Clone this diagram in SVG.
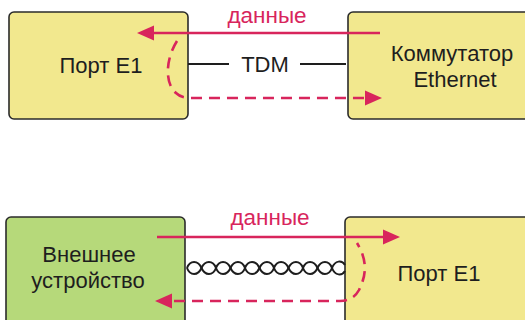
<svg xmlns="http://www.w3.org/2000/svg" width="525" height="320" viewBox="0 0 525 320">
  <style>
    .box { stroke: #2b2b2b; stroke-width: 1.6; }
    .yellow { fill: #f2e88e; }
    .green { fill: #b6d97a; }
    .label { font-family: "Liberation Sans", Arial, sans-serif; font-size: 22px; fill: #1e1e1e; text-anchor: middle; }
    .red-label { font-family: "Liberation Sans", Arial, sans-serif; font-size: 22.5px; fill: #d8255c; text-anchor: middle; }
    .flow { fill: none; stroke: #d8255c; stroke-width: 2.6; }
    .dashed { stroke-dasharray: 11 7; }
    .wire { fill: none; stroke: #1e1e1e; stroke-width: 2; }
    .head { fill: #d8255c; }
  </style>

  <rect width="525" height="320" fill="#ffffff"/>

  <!-- upper scheme: E1 port over TDM to Ethernet switch -->
  <g id="port-e1-top">
    <rect class="box yellow" x="9" y="12" width="179" height="107" rx="5"/>
    <text class="label" x="101" y="73">Порт E1</text>
  </g>
  <g id="ethernet-switch">
    <rect class="box yellow" x="348" y="12" width="190" height="107" rx="5"/>
    <text class="label" x="452" y="61">Коммутатор</text>
    <text class="label" x="455" y="87">Ethernet</text>
  </g>

  <!-- lower scheme: external device over twisted pair to E1 port -->
  <g id="external-device">
    <rect class="box green" x="6" y="217" width="179" height="120" rx="5"/>
    <text class="label" x="89" y="262">Внешнее</text>
    <text class="label" x="88" y="288">устройство</text>
  </g>
  <g id="port-e1-bottom">
    <rect class="box yellow" x="345" y="217" width="190" height="120" rx="5"/>
    <text class="label" x="439" y="281">Порт E1</text>
  </g>

  <g id="connectors">
    <!-- TDM link -->
    <line class="wire" x1="188" y1="64" x2="229" y2="64"/>
    <line class="wire" x1="300" y1="64" x2="346" y2="64"/>
    <text class="label" x="265" y="72" font-size="21">TDM</text>

    <!-- upper data flow -->
    <text class="red-label" x="267" y="23">данные</text>
    <line class="flow" x1="380" y1="33" x2="150" y2="33"/>
    <polygon class="head" points="137,33 154,25.5 154,40.5"/>
    <path class="flow dashed" d="M 177 41 C 165 60, 165 84, 176 93 Q 181 98 191 98 H 366"/>
    <polygon class="head" points="382,98 365,90.5 365,105.5"/>

    <!-- twisted pair -->
    <path id="twisted-pair" class="wire" d="M 187 268 C 190 260, 198 260, 201.5 268 C 205 276, 213 276, 216 268 C 219 260, 227 260, 230.5 268 C 234 276, 242 276, 245 268 C 248 260, 256 260, 259.5 268 C 263 276, 271 276, 274 268 C 277 260, 285 260, 288.5 268 C 292 276, 300 276, 303 268 C 306 260, 314 260, 317.5 268 C 321 276, 329 276, 332 268 C 335 260, 342 260, 345 265"/>
    <path class="wire" d="M 187 268 C 190 276, 198 276, 201.5 268 C 205 260, 213 260, 216 268 C 219 276, 227 276, 230.5 268 C 234 260, 242 260, 245 268 C 248 276, 256 276, 259.5 268 C 263 260, 271 260, 274 268 C 277 276, 285 276, 288.5 268 C 292 260, 300 260, 303 268 C 306 276, 314 276, 317.5 268 C 321 260, 329 260, 332 268 C 335 276, 342 276, 345 271"/>

    <!-- lower data flow -->
    <text class="red-label" x="270" y="225">данные</text>
    <line class="flow" x1="157" y1="237" x2="386" y2="237"/>
    <polygon class="head" points="400,237 383,229.5 383,244.5"/>
    <path class="flow dashed" d="M 174 301 H 340 Q 353 301 359 290 C 368 272, 366 258, 357 243"/>
    <polygon class="head" points="155,301 172,293.5 172,308.5"/>
  </g>
</svg>
